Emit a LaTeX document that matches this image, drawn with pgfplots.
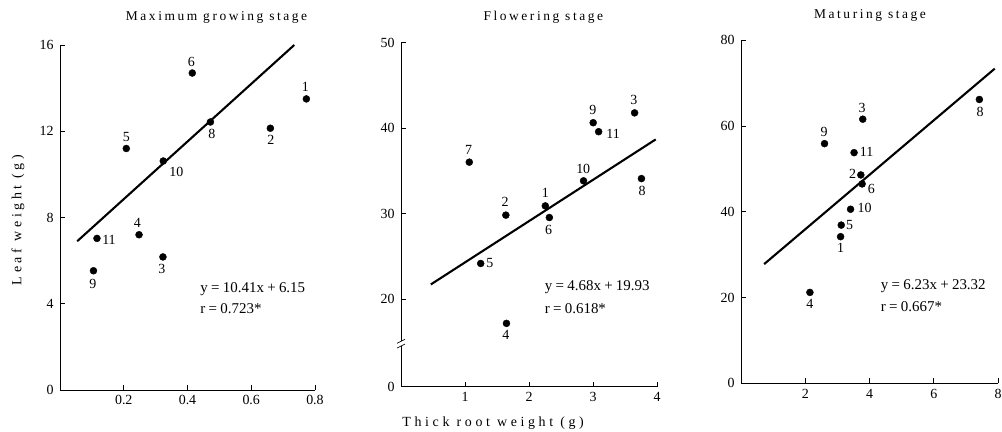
\documentclass[border=0pt]{standalone}
\usepackage{fontspec}
\setmainfont{Liberation Serif}
\newfontfamily\wide[LetterSpace=19]{Liberation Serif}
\newfontfamily\wider[LetterSpace=26]{Liberation Serif}
\usepackage{pgfplots}
\usepackage{pgfplotstable}
\pgfplotsset{compat=1.18}

% x, y, plot number, label offset (bp)
\pgfplotstableread{
x     y     lab dx    dy
0.773 13.50 1   -1    11.7
0.660 12.14 2   0.4   -11.7
0.323 6.17  3   -1    -12.3
0.248 7.20  4   -1.6  12
0.208 11.20 5   0     11.6
0.415 14.70 6   -1    11.3
0.472 12.43 8   1.3   -12.3
0.105 5.53  9   -0.7  -13.3
0.324 10.62 10  13    -10.7
0.116 7.03  11  12    -1
}\maxgrow
\pgfplotstableread{
x     y     lab dx    dy
2.255 30.93 1   0     13.3
1.638 29.85 2   -0.7  13.7
3.650 41.80 3   -0.7  12.7
1.648 17.20 4   -0.7  -11.7
1.245 24.20 5   9.3   0
2.318 29.57 6   -0.7  -12
1.067 36.04 7   -0.7  12.3
3.757 34.12 8   0.7   -12
3.003 40.65 9   -0.3  12.7
2.852 33.86 10  -0.3  11.7
3.088 39.60 11  14.5  -2.7
}\flower
\pgfplotstableread{
x     y     lab dx    dy
3.10  34.2  1   0     -11.7
3.73  48.6  2   -8.3  1.3
3.79  61.6  3   -0.7  11.7
2.145 21.2  4   0     -12
3.12  36.9  5   8.3   0
3.77  46.5  6   9.3   -4.7
7.42  66.2  8   0.7   -12
2.60  55.9  9   -0.3  11.7
3.41  40.6  10  14    1.7
3.52  53.8  11  12.5  0.7
}\mature

\pgfplotsset{
  stage/.style={
    scale only axis,
    anchor=south west,
    axis x line=bottom,
    axis y line=left,
    axis line style={-, line width=0.8pt},
    tick align=inside,
    major tick length=5bp,
    tick style={black, line width=0.7pt},
    tick label style={font=\fontsize{14}{16}\selectfont},
    xticklabel style={yshift=-2bp},
    yticklabel style={xshift=-3bp},
    title style={font=\wide\fontsize{13.5}{16}\selectfont, anchor=base},
    label style={font=\wider\fontsize{14}{16}\selectfont},
    clip=false,
  },
  dots/.style={
    only marks, mark=*, mark size=3.5bp, black,
    nodes near coords,
    point meta=explicit symbolic,
    visualization depends on={\thisrow{dx}\as\dx},
    visualization depends on={\thisrow{dy}\as\dy},
    every node near coord/.append style={anchor=center, inner sep=0pt,
      xshift=\dx*1bp, yshift=\dy*1bp, font=\fontsize{14}{16}\selectfont},
  },
  fit/.style={black, line width=2.1pt, no marks},
}
\tikzset{eq/.style={anchor=base west, inner sep=0pt, font=\fontsize{15}{17}\selectfont}}
\newcommand\gap{\kern0.22em}

\begin{document}
\begin{tikzpicture}
\path[use as bounding box] (0,0) rectangle (1002bp,432bp);

\begin{axis}[stage,
  at={(60bp,42bp)}, width=255bp, height=345bp,
  xmin=0, xmax=0.8, ymin=0, ymax=16,
  xtick={0.2,0.4,0.6,0.8}, xticklabels={0.2,0.4,0.6,0.8},
  ytick={0,4,8,12,16}, yticklabels={0,4,8,12,16},
  title={Maximum growing stage},
  title style={at={(axis description cs:0.614,1.055)}},
  ylabel={Leaf weight (g)},
  ylabel style={at={(axis description cs:-0.165,0.493)}, anchor=center},
]
\addplot[fit] coordinates {(0.054,6.9) (0.735,16.0)};
\addplot[dots] table[x=x, y=y, meta=lab] {\maxgrow};
\node[eq] at (axis cs:0.44,4.5) {y\gap=\gap10.41x\gap+\gap6.15};
\node[eq] at (axis cs:0.44,3.57) {r\gap=\gap0.723*};
\end{axis}

\begin{axis}[stage,
  at={(401bp,45.3bp)}, width=256bp, height=344bp,
  xmin=0, xmax=4, ymin=9.8, ymax=50,
  xtick={1,2,3,4}, xticklabels={1,2,3,4},
  ytick={9.8,20,30,40,50}, yticklabels={0,20,30,40,50},
  y axis line style={draw=none},
  title={Flowering stage},
  title style={at={(axis description cs:0.556,1.0485)}},
  xlabel={Thick root weight (g)},
  xlabel style={at={(axis description cs:0.36,-0.106)}, anchor=center},
]
\draw[line width=0.8pt] (axis cs:0,9.8) -- (axis cs:0,14.55);
\draw[line width=0.8pt] (axis cs:0,15.1) -- (axis cs:0,50);
\draw[line width=0.7pt] (axis cs:0,14.55) ++(-4bp,-2bp) -- ++(8bp,4bp);
\draw[line width=0.7pt] (axis cs:0,15.1) ++(-4bp,-2bp) -- ++(8bp,4bp);
\addplot[fit] coordinates {(0.466,21.75) (3.98,38.7)};
\addplot[dots] table[x=x, y=y, meta=lab] {\flower};
\node[eq] at (axis cs:2.245,21.09) {y\gap=\gap4.68x\gap+\gap19.93};
\node[eq] at (axis cs:2.245,18.36) {r\gap=\gap0.618*};
\end{axis}

\begin{axis}[stage,
  at={(741bp,48.7bp)}, width=257bp, height=343bp,
  xmin=0, xmax=8, ymin=0, ymax=80,
  xtick={2,4,6,8}, xticklabels={2,4,6,8},
  ytick={0,20,40,60,80}, yticklabels={0,20,40,60,80},
  title={Maturing stage},
  title style={at={(axis description cs:0.502,1.0475)}},
]
\addplot[fit] coordinates {(0.72,27.8) (7.9,73.4)};
\addplot[dots] table[x=x, y=y, meta=lab] {\mature};
\node[eq] at (axis cs:4.35,21.9) {y\gap=\gap6.23x\gap+\gap23.32};
\node[eq] at (axis cs:4.35,16.7) {r\gap=\gap0.667*};
\end{axis}
\end{tikzpicture}
\end{document}
